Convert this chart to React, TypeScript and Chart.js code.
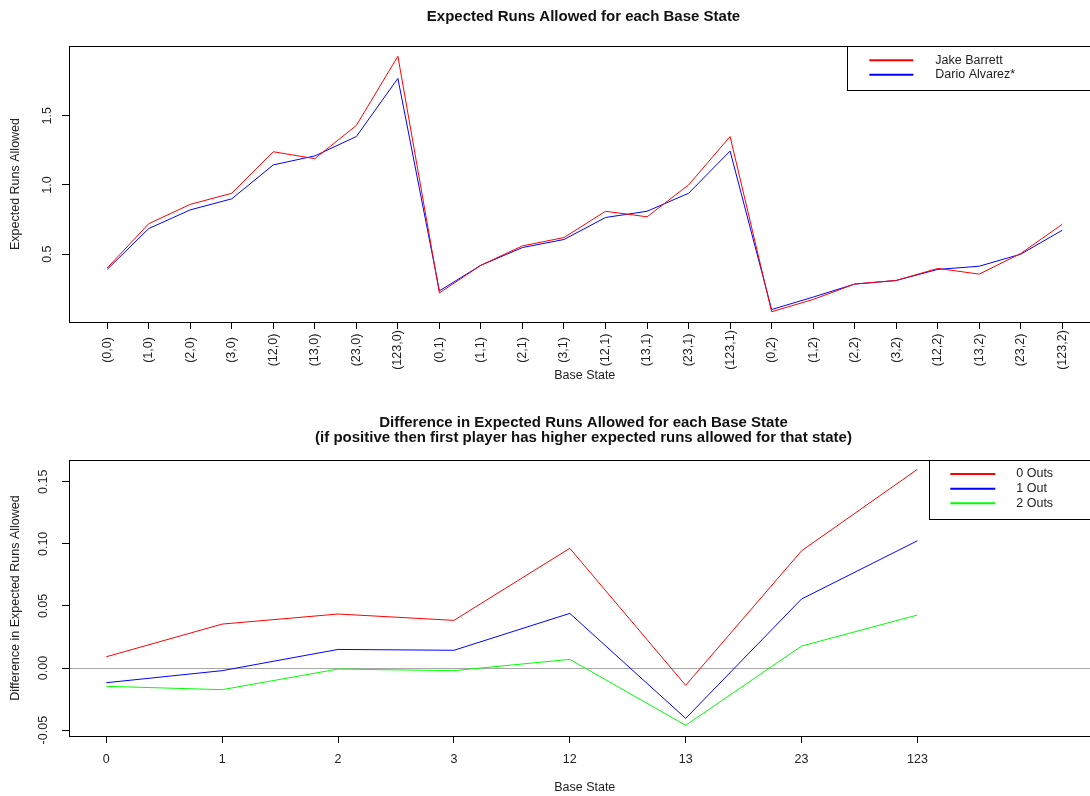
import React, { useEffect, useRef } from 'react';
import { Chart, registerables } from 'chart.js';

Chart.register(...registerables);

// ---------- data ----------
const baseStates = [
  '(0,0)', '(1,0)', '(2,0)', '(3,0)', '(12,0)', '(13,0)', '(23,0)', '(123,0)',
  '(0,1)', '(1,1)', '(2,1)', '(3,1)', '(12,1)', '(13,1)', '(23,1)', '(123,1)',
  '(0,2)', '(1,2)', '(2,2)', '(3,2)', '(12,2)', '(13,2)', '(23,2)', '(123,2)',
];
const jakeBarrett = [
  0.40, 0.72, 0.86, 0.94, 1.24, 1.19, 1.43, 1.93,
  0.22, 0.42, 0.56, 0.62, 0.81, 0.77, 1.00, 1.35,
  0.084, 0.173, 0.284, 0.31, 0.397, 0.356, 0.505, 0.716,
];
const darioAlvarez = [
  0.39, 0.685, 0.82, 0.90, 1.145, 1.21, 1.35, 1.77,
  0.235, 0.42, 0.548, 0.606, 0.765, 0.81, 0.94, 1.245,
  0.10, 0.19, 0.284, 0.31, 0.39, 0.413, 0.50, 0.673,
];
const topYTicks = [0.5, 1.0, 1.5];
const topYTickLabels = ['0.5', '1.0', '1.5'];

const runnerStates = ['0', '1', '2', '3', '12', '13', '23', '123'];
const diffZeroOuts = [0.0091, 0.0354, 0.0435, 0.0384, 0.0964, -0.0139, 0.0944, 0.160];
const diffOneOut = [-0.0118, -0.0021, 0.015, 0.0143, 0.044, -0.0405, 0.0556, 0.1025];
const diffTwoOuts = [-0.0147, -0.0174, -0.0008, -0.0021, 0.007, -0.0461, 0.0177, 0.0427];
const bottomYTicks = [-0.05, 0, 0.05, 0.1, 0.15];
const bottomYTickLabels = ['-0.05', '0.00', '0.05', '0.10', '0.15'];

// ---------- styling ----------
const FAMILY = '"Liberation Sans", Arial, sans-serif';
const TEXT = '#222222';
const FS = 12.5;

Chart.defaults.font.family = FAMILY;
Chart.defaults.color = TEXT;

const rPlotPlugin = {
  id: 'rPlot',
  beforeDatasetsDraw(chart: any, _a: any, opts: any) {
    if (!opts.zeroLine) return;
    const ctx = chart.ctx;
    const a = chart.chartArea;
    const y = Math.round(chart.scales.y.getPixelForValue(0)) + 0.5;
    ctx.save();
    ctx.strokeStyle = '#a8a8a8';
    ctx.lineWidth = 1;
    ctx.beginPath();
    ctx.moveTo(a.left, y);
    ctx.lineTo(a.right, y);
    ctx.stroke();
    ctx.restore();
  },
  afterDraw(chart: any, _a: any, opts: any) {
    const ctx = chart.ctx;
    const a = chart.chartArea;
    ctx.save();
    // plot box
    ctx.strokeStyle = '#000';
    ctx.lineWidth = 1;
    const l = Math.round(a.left) + 0.5;
    const t = Math.round(a.top) + 0.5;
    const r = Math.round(a.right) + 0.5;
    const b = Math.round(a.bottom) + 0.5;
    ctx.strokeRect(l, t, r - l, b - t);

    // titles
    ctx.fillStyle = '#111';
    ctx.font = `bold 15px ${FAMILY}`;
    ctx.textAlign = 'center';
    ctx.textBaseline = 'middle';
    (opts.title || []).forEach((line: string, i: number) => {
      ctx.fillText(line, opts.titleX, opts.titleY + i * opts.titleGap);
    });

    // rotated, centred x tick labels
    if (opts.rotatedLabelsY) {
      const xs = chart.scales.x;
      ctx.font = `${FS}px ${FAMILY}`;
      ctx.fillStyle = TEXT;
      xs.ticks.forEach((tk: any, i: number) => {
        const px = xs.getPixelForTick(i);
        ctx.save();
        ctx.translate(px, opts.rotatedLabelsY);
        ctx.rotate(-Math.PI / 2);
        ctx.textAlign = 'center';
        ctx.textBaseline = 'middle';
        ctx.fillText(tk.label, 0, 0);
        ctx.restore();
      });
    }

    // legend
    const lg = opts.legend;
    if (lg) {
      const ds = chart.data.datasets;
      const boxTop = Math.round(a.top) + 0.5;
      const boxBottom = Math.round(a.top + lg.firstRow + (ds.length - 1) * lg.rowGap + lg.bottomPad) + 0.5;
      const boxLeft = Math.round(lg.left) + 0.5;
      ctx.fillStyle = '#fff';
      ctx.fillRect(boxLeft, boxTop, r - boxLeft, boxBottom - boxTop);
      ctx.strokeStyle = '#000';
      ctx.lineWidth = 1;
      ctx.strokeRect(boxLeft, boxTop, r - boxLeft, boxBottom - boxTop);
      ctx.font = `${FS}px ${FAMILY}`;
      ctx.textAlign = 'left';
      ctx.textBaseline = 'middle';
      ds.forEach((d: any, i: number) => {
        const y = a.top + lg.firstRow + i * lg.rowGap;
        ctx.strokeStyle = d.borderColor;
        ctx.lineWidth = 2;
        ctx.beginPath();
        ctx.moveTo(lg.left + lg.sampleStart, y);
        ctx.lineTo(lg.left + lg.sampleEnd, y);
        ctx.stroke();
        ctx.fillStyle = TEXT;
        ctx.fillText(d.label, lg.left + lg.textX, y);
      });
    }
    ctx.restore();
  },
};

function pts(values: number[]) {
  return values.map((v, i) => ({ x: i, y: v }));
}

function buildTopConfig(): any {
  return {
    type: 'line',
    data: {
      datasets: [
        { label: 'Jake Barrett', data: pts(jakeBarrett), borderColor: '#ff0000' },
        { label: 'Dario Alvarez*', data: pts(darioAlvarez), borderColor: '#0000ff' },
      ],
    },
    plugins: [rPlotPlugin],
    options: {
      responsive: false,
      animation: false,
      events: [],
      layout: { padding: { left: 0, top: 46, right: 9.5, bottom: 0 } },
      elements: { line: { tension: 0, borderWidth: 1 }, point: { radius: 0 } },
      plugins: {
        legend: { display: false },
        tooltip: { enabled: false },
        rPlot: {
          title: ['Expected Runs Allowed for each Base State'],
          titleX: 583.5,
          titleY: 17,
          titleGap: 15,
          rotatedLabelsY: 350,
          legend: { left: 847.3, sampleStart: 22, sampleEnd: 66, textX: 88, firstRow: 14.3, rowGap: 14.5, bottomPad: 15.2 },
        },
      },
      scales: {
        x: {
          type: 'linear',
          min: -0.92,
          max: 23.92,
          afterBuildTicks: (s: any) => { s.ticks = baseStates.map((_, i) => ({ value: i })); },
          afterFit: (s: any) => { s.height = 78; },
          grid: { drawOnChartArea: false, drawTicks: true, tickLength: 7, color: '#000', lineWidth: 1 },
          border: { display: false },
          ticks: { display: false, callback: (v: number) => baseStates[v] },
          title: { display: true, text: 'Base State', font: { size: FS }, color: TEXT, padding: { top: 0, bottom: 16.5 } },
        },
        y: {
          type: 'linear',
          min: 0.01,
          max: 2.004,
          afterBuildTicks: (s: any) => { s.ticks = topYTicks.map((v) => ({ value: v })); },
          afterFit: (s: any) => { s.width = 69; },
          grid: { drawOnChartArea: false, drawTicks: true, tickLength: 7, color: '#000', lineWidth: 1 },
          border: { display: false },
          ticks: {
            minRotation: 90, maxRotation: 90, crossAlign: 'center', padding: 5.5,
            font: { size: FS }, color: TEXT,
            callback: (v: number) => topYTickLabels[topYTicks.indexOf(v)],
          },
          title: { display: true, text: 'Expected Runs Allowed', font: { size: FS }, color: TEXT, padding: { top: 8.5, bottom: 0 } },
        },
      },
    },
  };
}

function buildBottomConfig(): any {
  return {
    type: 'line',
    data: {
      datasets: [
        { label: '0 Outs', data: pts(diffZeroOuts), borderColor: '#ff0000' },
        { label: '1 Out', data: pts(diffOneOut), borderColor: '#0000ff' },
        { label: '2 Outs', data: pts(diffTwoOuts), borderColor: '#00ff00' },
      ],
    },
    plugins: [rPlotPlugin],
    options: {
      responsive: false,
      animation: false,
      events: [],
      layout: { padding: { left: 0, top: 60, right: 9.5, bottom: 0 } },
      elements: { line: { tension: 0, borderWidth: 1 }, point: { radius: 0 } },
      plugins: {
        legend: { display: false },
        tooltip: { enabled: false },
        rPlot: {
          zeroLine: true,
          title: [
            'Difference in Expected Runs Allowed for each Base State',
            '(if positive then first player has higher expected runs allowed for that state)',
          ],
          titleX: 583.5,
          titleY: 23,
          titleGap: 15,
          legend: { left: 929.3, sampleStart: 21, sampleEnd: 66, textX: 87, firstRow: 14, rowGap: 14.65, bottomPad: 15.7 },
        },
      },
      scales: {
        x: {
          type: 'linear',
          min: -0.322,
          max: 8.58,
          afterBuildTicks: (s: any) => { s.ticks = runnerStates.map((_, i) => ({ value: i })); },
          afterFit: (s: any) => { s.height = 60; },
          grid: { drawOnChartArea: false, drawTicks: true, tickLength: 7, color: '#000', lineWidth: 1 },
          border: { display: false },
          ticks: { maxRotation: 0, minRotation: 0, padding: 8.8, font: { size: FS }, color: TEXT, callback: (v: number) => runnerStates[v] },
          title: { display: true, text: 'Base State', font: { size: FS }, color: TEXT, padding: { top: 0, bottom: 0.5 } },
        },
        y: {
          type: 'linear',
          min: -0.0547,
          max: 0.1675,
          afterBuildTicks: (s: any) => { s.ticks = bottomYTicks.map((v) => ({ value: v })); },
          afterFit: (s: any) => { s.width = 69; },
          grid: { drawOnChartArea: false, drawTicks: true, tickLength: 7, color: '#000', lineWidth: 1 },
          border: { display: false },
          ticks: {
            minRotation: 90, maxRotation: 90, crossAlign: 'center', padding: 4.4,
            font: { size: FS }, color: TEXT,
            callback: (v: number) => bottomYTickLabels[bottomYTicks.findIndex((t) => Math.abs(t - v) < 1e-9)],
          },
          title: { display: true, text: 'Difference in Expected Runs Allowed', font: { size: FS }, color: TEXT, padding: { top: 8.5, bottom: 0 } },
        },
      },
    },
  };
}

function ChartCanvas({ build, width, height, top }: { build: () => any; width: number; height: number; top: number }) {
  const ref = useRef<HTMLCanvasElement | null>(null);
  useEffect(() => {
    if (!ref.current) return;
    const chart = new Chart(ref.current, build());
    return () => chart.destroy();
  }, [build]);
  return (
    <canvas
      ref={ref}
      width={width}
      height={height}
      style={{ position: 'absolute', left: 0, top, width, height, display: 'block' }}
    />
  );
}

export default function App() {
  return (
    <div
      style={{
        position: 'absolute',
        left: 0,
        top: 0,
        width: 1090,
        height: 796,
        overflow: 'hidden',
        background: '#ffffff',
      }}
    >
      <ChartCanvas build={buildTopConfig} width={1110} height={400} top={0} />
      <ChartCanvas build={buildBottomConfig} width={1110} height={396} top={400} />
    </div>
  );
}
